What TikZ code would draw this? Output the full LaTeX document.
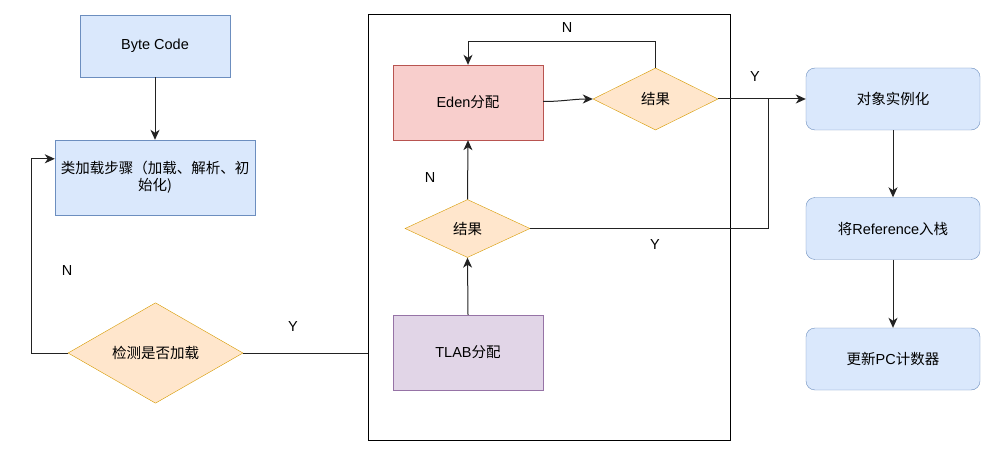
\documentclass[tikz,border=0pt]{standalone}
\usepackage{fontspec}
\setmainfont{Liberation Sans}
\newfontfamily\cjk{Noto Sans CJK SC}
\usetikzlibrary{shapes.geometric,arrows.meta}
\definecolor{bfill}{HTML}{DAE8FC}\definecolor{bdraw}{HTML}{6C8EBF}
\definecolor{rfill}{HTML}{F8CECC}\definecolor{rdraw}{HTML}{B85450}
\definecolor{pfill}{HTML}{E1D5E7}\definecolor{pdraw}{HTML}{9673A6}
\definecolor{ofill}{HTML}{FFE6CC}\definecolor{odraw}{HTML}{D79B00}
\definecolor{lncol}{HTML}{222222}
\begin{document}
\begin{tikzpicture}[x=1pt,y=-1pt,
  every node/.style={font=\fontsize{14.5}{18}\selectfont, inner sep=0pt},
  bluebox/.style={draw=bdraw, fill=bfill, minimum width=150pt, minimum height=62pt},
  roundbox/.style={draw=bdraw, fill=bfill, rounded corners=9pt, minimum width=174pt, minimum height=62pt},
  edenbox/.style={draw=rdraw, fill=rfill, minimum width=150pt, minimum height=75pt},
  tlabbox/.style={draw=pdraw, fill=pfill, minimum width=150pt, minimum height=75pt},
  decision/.style={diamond, draw=odraw, fill=ofill},
  conn/.style={draw=lncol, line width=1pt},
  arr/.style={conn, -{Stealth[length=10pt,width=9pt,inset=3pt]}},
  lbl/.style={font=\fontsize{14.5}{18}\selectfont}]
\useasboundingbox (0,0) rectangle (999,457);
\fill[white] (0,0) rectangle (999,457);
% container
\node[draw=black, line width=1pt, minimum width=362pt, minimum height=425pt] (box) at (549,227.5) {};
% left column
\node[bluebox] (bc) at (155,46) {Byte Code};
\node[bluebox, minimum width=200pt, minimum height=75pt, align=center] (cls) at (155,177.5) {\cjk 类加载步骤（加载、解析、初\\[-1pt]\cjk 始化)};
\node[decision, minimum width=175pt, minimum height=100pt] (chk) at (155.5,353) {\cjk 检测是否加载};
% middle
\node[edenbox] (eden) at (468,102.5) {Eden{\cjk 分配}};
\node[tlabbox] (tlab) at (468,352.5) {TLAB{\cjk 分配}};
\node[decision, minimum width=125pt, minimum height=58pt] (r2) at (467.5,228.5) {\cjk 结果};
\node[decision, minimum width=125pt, minimum height=62pt] (r1) at (655.5,99) {\cjk 结果};
% right column
\node[roundbox] (obj) at (893,99) {\cjk 对象实例化};
\node[roundbox] (ref) at (893,228.5) {{\cjk 将}Reference{\cjk 入栈}};
\node[roundbox] (pc) at (893,359) {{\cjk 更新}PC{\cjk 计数器}};
% helper coordinates
\coordinate (lp) at (31,353);
\coordinate (jn) at (768,99);
% connectors
\draw[arr] (bc.south) -- (cls.north);
\draw[arr] (chk.west) -- (lp) |- ([yshift=-19pt]cls.north west);
\draw[conn] (chk.east) -- (chk.east -| box.west);
\draw[arr] (tlab.north) -- (r2.south);
\draw[arr] (r2.north) -- (eden.south);
\draw[arr] ([yshift=1pt]eden.east) to[out=0,in=180] (r1.west);
\draw[arr] (r1.north) -- ++(0,-26) -| (eden.north);
\draw[arr] (r1.east) -- (obj.west);
\draw[conn] (r2.east) -| (jn);
\draw[arr] (obj.south) -- (ref.north);
\draw[arr] (ref.south) -- (pc.north);
% labels
\node[lbl] (n1) at (567,28) {N};
\node[lbl] (y1) at (755,77) {Y};
\node[lbl] (n2) at (430,178) {N};
\node[lbl] (y2) at (655,245) {Y};
\node[lbl] (n3) at (67,271) {N};
\node[lbl] (y3) at (293,327) {Y};
\end{tikzpicture}
\end{document}
